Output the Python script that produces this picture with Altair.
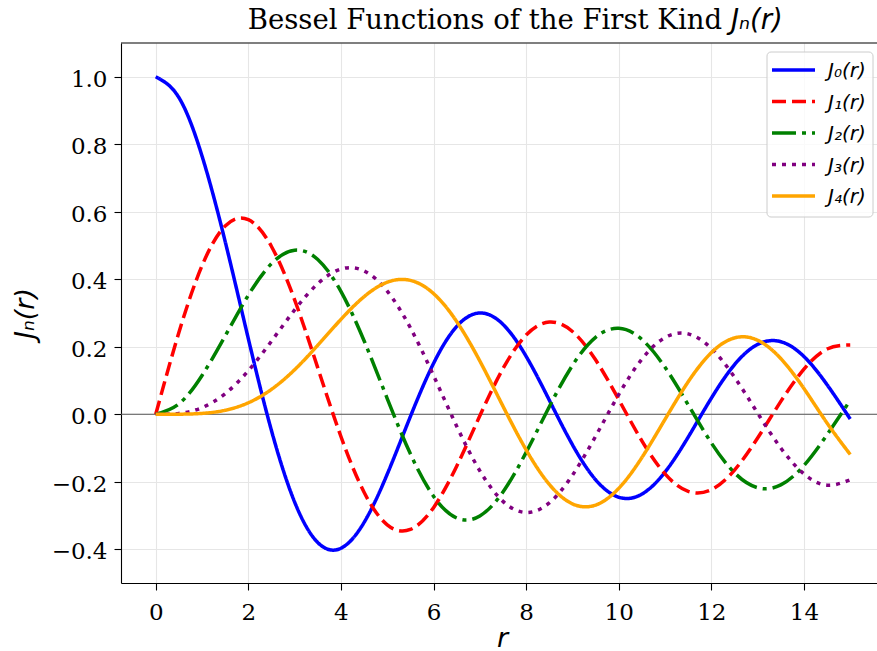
import altair as alt
import pandas as pd

# Sample points along r (uniform step) and tabulated values of J_0 ... J_4
r_values = [0.0, 0.5, 1.0, 1.5, 2.0, 2.5, 3.0, 3.5, 4.0, 4.5, 5.0, 5.5, 6.0, 6.5, 7.0, 7.5,
            8.0, 8.5, 9.0, 9.5, 10.0, 10.5, 11.0, 11.5, 12.0, 12.5, 13.0, 13.5, 14.0, 14.5, 15.0]

j0 = [1.0, 0.9385, 0.7652, 0.5118, 0.2239, -0.0484, -0.2601, -0.3801, -0.3971, -0.3205,
      -0.1776, -0.0068, 0.1506, 0.2601, 0.3001, 0.2663, 0.1717, 0.0419, -0.0903, -0.1939,
      -0.2459, -0.2366, -0.1712, -0.0677, 0.0477, 0.1469, 0.2069, 0.2150, 0.1711, 0.0875, -0.0142]
j1 = [0.0, 0.2423, 0.4401, 0.5579, 0.5767, 0.4971, 0.3391, 0.1374, -0.0660, -0.2311,
      -0.3276, -0.3414, -0.2767, -0.1538, -0.0047, 0.1352, 0.2346, 0.2731, 0.2453, 0.1613,
      0.0435, -0.0789, -0.1768, -0.2284, -0.2234, -0.1655, -0.0703, 0.0380, 0.1334, 0.1934, 0.2051]
j2 = [0.0, 0.0306, 0.1149, 0.2321, 0.3528, 0.4461, 0.4861, 0.4586, 0.3641, 0.2178,
      0.0466, -0.1173, -0.2429, -0.3074, -0.3014, -0.2303, -0.1130, 0.0223, 0.1448, 0.2279,
      0.2546, 0.2216, 0.1390, 0.0280, -0.0849, -0.1734, -0.2177, -0.2094, -0.1520, -0.0608, 0.0416]
j3 = [0.0, 0.0026, 0.0196, 0.0610, 0.1289, 0.2166, 0.3091, 0.3868, 0.4302, 0.4247,
      0.3648, 0.2561, 0.1148, -0.0354, -0.1676, -0.2581, -0.2911, -0.2626, -0.1809, -0.0653,
      0.0584, 0.1633, 0.2273, 0.2381, 0.1951, 0.1100, 0.0033, -0.1000, -0.1768, -0.2102, -0.1940]
j4 = [0.0, 0.0002, 0.0025, 0.0118, 0.0340, 0.0738, 0.1320, 0.2044, 0.2811, 0.3484,
      0.3912, 0.3967, 0.3576, 0.2748, 0.1578, 0.0238, -0.1054, -0.2077, -0.2655, -0.2691,
      -0.2196, -0.1283, -0.0150, 0.0962, 0.1825, 0.2262, 0.2193, 0.1650, 0.0762, -0.0262, -0.1192]

series_names = ["J₀(r)", "J₁(r)", "J₂(r)", "J₃(r)", "J₄(r)"]
series_values = [j0, j1, j2, j3, j4]
series_colors = ["#0000ff", "#ff0000", "#008000", "#800080", "#ffa500"]
series_dashes = [[1, 0], [14, 6], [24, 6, 4, 6], [4, 6], [1, 0]]

x_ticks = [0, 2, 4, 6, 8, 10, 12, 14]
y_ticks = [-0.4, -0.2, 0.0, 0.2, 0.4, 0.6, 0.8, 1.0]

title_text = "Bessel Functions of the First Kind"
title_math = "Jₙ(r)"
x_title = "r"
y_title = "Jₙ(r)"

W, H = 756, 540
SERIF = "DejaVu Serif"
SANS = "DejaVu Sans"

rows = []
for name, vals in zip(series_names, series_values):
    for r, v in zip(r_values, vals):
        rows.append({"r": r, "value": v, "series": name})
df = pd.DataFrame(rows)

x_scale = alt.Scale(domain=[-0.75, 15.578], nice=False, zero=False)
y_scale = alt.Scale(domain=[-0.5, 1.1], nice=False, zero=False)

base = alt.Chart(df)

lines = base.mark_line(strokeWidth=3.5, interpolate="natural", strokeCap="butt").encode(
    x=alt.X("r:Q", scale=x_scale,
            axis=alt.Axis(values=x_ticks, title=x_title, format="d",
                          titleX=381, titleY=63, titleBaseline="alphabetic",
                          titleFont=SANS, titleFontStyle="italic", titleFontSize=27,
                          titleFontWeight="normal", labelPadding=11)),
    y=alt.Y("value:Q", scale=y_scale,
            axis=alt.Axis(values=y_ticks, title=y_title, format=".1f",
                          titleX=-96, titleY=270, titleBaseline="middle", titleAngle=-90,
                          titleAlign="center",
                          titleFont=SANS, titleFontStyle="italic", titleFontSize=27,
                          titleFontWeight="normal", labelPadding=7, labelOffset=2.5)),
    color=alt.Color("series:N", scale=alt.Scale(domain=series_names, range=series_colors), legend=None),
    strokeDash=alt.StrokeDash("series:N", scale=alt.Scale(domain=series_names, range=series_dashes), legend=None),
)

zero_line = alt.Chart(pd.DataFrame({"y": [0.0]})).mark_rule(color="#555555", strokeWidth=1.1).encode(
    y=alt.Y("y:Q", scale=y_scale)
)

top_border = alt.Chart(pd.DataFrame({"k": [0]})).mark_rule(color="black", strokeWidth=1.1).encode(
    x=alt.value(0), x2=alt.value(W), y=alt.value(0)
)

# Title: serif text followed by the italic math part
title_layer = alt.Chart(pd.DataFrame({"t": [title_text]})).mark_text(
    font=SERIF, fontSize=27.5, align="right", baseline="alphabetic", color="black"
).encode(x=alt.value(601), y=alt.value(-14), text="t:N")
title_math_layer = alt.Chart(pd.DataFrame({"t": [title_math]})).mark_text(
    font=SANS, fontSize=27.5, fontStyle="italic", align="left", baseline="alphabetic", color="black"
).encode(x=alt.value(610), y=alt.value(-14), text="t:N")

# Legend box with one sample line and label per series
legend_box = alt.Chart(pd.DataFrame({"k": [0]})).mark_rect(
    fill="white", fillOpacity=0.8, stroke="#cccccc", strokeWidth=1, cornerRadius=4
).encode(x=alt.value(646), x2=alt.value(752), y=alt.value(9), y2=alt.value(174))

legend_layers = [legend_box]
for i, (name, col, dash) in enumerate(zip(series_names, series_colors, series_dashes)):
    yy = 27 + i * 31.5
    src = alt.Chart(pd.DataFrame({"label": [name]}))
    legend_layers.append(
        src.mark_rule(color=col, strokeWidth=3.5, strokeDash=dash, strokeCap="butt").encode(
            x=alt.value(651), x2=alt.value(694), y=alt.value(yy))
    )
    legend_layers.append(
        src.mark_text(font=SANS, fontStyle="italic", fontSize=20, align="left",
                      baseline="middle", color="black").encode(
            x=alt.value(707), y=alt.value(yy + 1), text="label:N")
    )

chart = alt.layer(
    zero_line, lines, top_border, title_layer, title_math_layer, *legend_layers
).properties(
    width=W, height=H,
    autosize=alt.AutoSizeParams(type="none"),
    padding={"left": 121, "top": 43, "right": 0, "bottom": 68},
    background="white",
).configure_view(
    stroke=None
).configure_axis(
    labelFont=SERIF, labelFontSize=23, labelColor="black",
    tickColor="black", tickSize=7, tickWidth=1.1,
    domainColor="black", domainWidth=1.1,
    grid=True, gridColor="#e6e6e6", gridWidth=1.1,
    titleColor="black",
)

chart.save("out.html", embed_options={"renderer": "svg", "actions": False})
